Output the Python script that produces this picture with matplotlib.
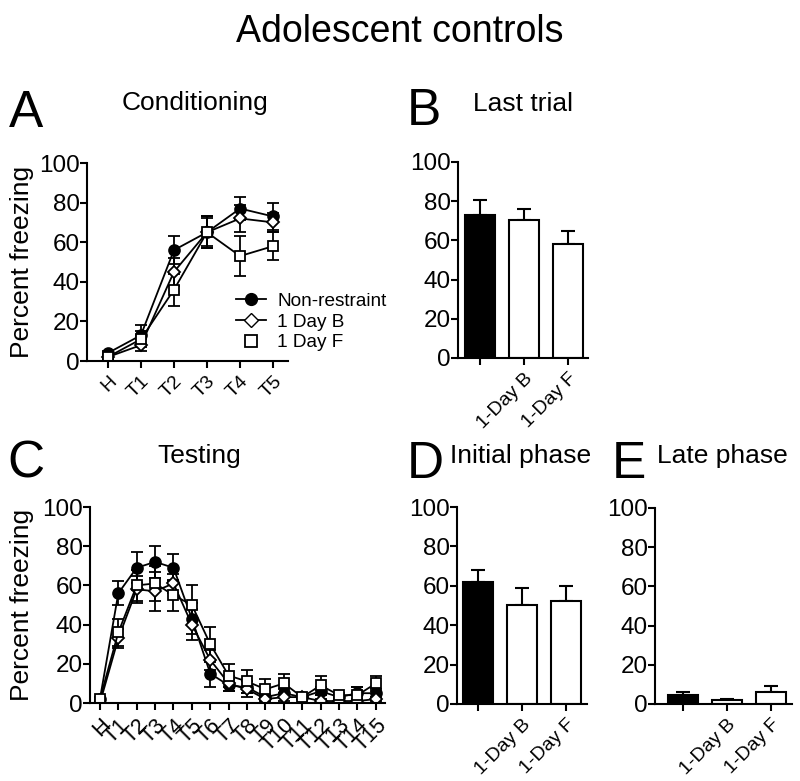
import numpy as np
import matplotlib
matplotlib.use('Agg')
import matplotlib.pyplot as plt
from matplotlib.lines import Line2D

plt.rcParams['font.family'] = ['Liberation Sans', 'DejaVu Sans']
plt.rcParams['axes.linewidth'] = 1.5

groups = ['Non-restraint', '1 Day B', '1 Day F']
bar_labels = ['', '1-Day B', '1-Day F']

# conditioning (A)
cond_trials = ['H', 'T1', 'T2', 'T3', 'T4', 'T5']
cond_nr = [4, 13, 56, 65, 77, 73]
cond_nr_err = [1, 5, 7, 8, 6, 7]
cond_b = [2, 8, 45, 65, 72, 70]
cond_b_err = [1, 3, 7, 7, 7, 5]
cond_f = [2, 11, 36, 65, 53, 58]
cond_f_err = [1, 4, 8, 8, 10, 7]

# last trial (B)
last_vals = [73, 70.5, 58]
last_err = [7.5, 5.5, 7]

# testing (C)
test_trials = ['H'] + ['T%d' % i for i in range(1, 16)]
test_nr = [2, 56, 69, 72, 69, 43, 15, 9, 8, 3, 5, 3, 6, 3, 5, 5]
test_nr_err = [1, 6, 8, 8, 7, 8, 7, 3, 3, 1, 2, 1, 2, 1, 3, 2]
test_b = [0, 33, 58, 57, 61, 40, 22, 10, 7, 2, 3, 3, 1, 1, 1, 2]
test_b_err = [0.5, 5, 7, 10, 5, 8, 5, 4, 4, 1, 2, 1, 1, 1, 1, 1]
test_f = [2, 36, 60, 61, 55, 50, 30, 14, 11, 7, 10, 3, 9, 4, 4, 10]
test_f_err = [1, 7, 8, 9, 8, 10, 9, 6, 6, 5, 5, 1, 5, 1, 4, 4]

# initial / late phase (D, E)
init_vals = [62, 50.5, 52.5]
init_err = [6, 8.5, 7.5]
late_vals = [4.5, 2, 6]
late_err = [1.5, 0.7, 3]

W, H = 800, 781
fig = plt.figure(figsize=(8, 7.81), dpi=100)


def ax_at(l, r, b, t):
    return fig.add_axes([l / W, 1 - b / H, (r - l) / W, (b - t) / H])


def style(ax):
    ax.spines['top'].set_visible(False)
    ax.spines['right'].set_visible(False)
    ax.set_ylim(0, 100)
    ax.set_yticks([0, 20, 40, 60, 80, 100])
    ax.tick_params(axis='both', width=1.5, length=5, labelsize=17.5)
    ax.tick_params(axis='y', pad=0)


def lines(ax, trials, series, ms, xl, fs):
    x = np.arange(len(trials))
    marks = [('o', 'black'), ('D', 'white'), ('s', 'white')]
    for (y, e), (m, fc) in zip(series, marks):
        ax.errorbar(x, y, yerr=e, color='black', lw=1.3, elinewidth=1.3,
                    capsize=4, capthick=1.3, marker=m, mfc=fc, mec='black',
                    ms=ms * (0.8 if m == 'D' else 1), mew=1.3)
    style(ax)
    ax.set_xlim(*xl)
    ax.set_xticks(x)
    ax.set_xticklabels(trials, rotation=45, ha='right', rotation_mode='anchor',
                       fontsize=fs)


def bars(ax, vals, err, xl):
    x = np.arange(3)
    ax.bar(x, vals, width=0.68, color=['black', 'white', 'white'],
           edgecolor='black', linewidth=1.5, zorder=2)
    ax.errorbar(x, vals, yerr=[np.zeros(3), err], fmt='none', ecolor='black',
                elinewidth=1.5, capsize=5, capthick=1.5, zorder=1)
    style(ax)
    ax.set_xlim(*xl)
    ax.set_xticks(x)
    ax.set_xticklabels(bar_labels, rotation=45, ha='right',
                       rotation_mode='anchor', fontsize=14)


axA = ax_at(87, 288, 361, 163)
lines(axA, cond_trials, [(cond_nr, cond_nr_err), (cond_b, cond_b_err),
                         (cond_f, cond_f_err)], 7.8, (-0.63, 5.45), 14)

axB = ax_at(458, 588, 358, 162)
bars(axB, last_vals, last_err, (-0.5, 2.45))

axC = ax_at(90, 385, 703, 507)
lines(axC, test_trials, [(test_nr, test_nr_err), (test_b, test_b_err),
                         (test_f, test_f_err)], 7.8, (-0.54, 15.5), 15.5)

axD = ax_at(457, 587, 704, 507)
bars(axD, init_vals, init_err, (-0.48, 2.48))

axE = ax_at(655, 792, 704, 508)
bars(axE, late_vals, late_err, (-0.64, 2.48))

# legend in panel A
handles = [
    Line2D([], [], color='black', lw=1.3, marker='o', mfc='black', ms=8.5),
    Line2D([], [], color='black', lw=1.3, marker='D', mfc='white', ms=7),
    Line2D([], [], color='none', marker='s', mfc='white', mec='black',
           ms=9, mew=1.3),
]
fig.legend(handles, groups, loc='upper left', frameon=False, fontsize=13.7,
           bbox_to_anchor=(226 / W, 1 - 283 / H), borderpad=0,
           labelspacing=0.18, handlelength=1.6, handletextpad=0.6)


def ftext(x, y, s, size, ha='left'):
    fig.text(x / W, 1 - y / H, s, fontsize=size, ha=ha, va='baseline')


ftext(400, 42, 'Adolescent controls', 27, ha='center')
ftext(9, 127, 'A', 37)
ftext(195, 110, 'Conditioning', 19, ha='center')
ftext(407, 125, 'B', 37)
ftext(473, 111, 'Last trial', 19)
ftext(7, 478, 'C', 37)
ftext(199, 463, 'Testing', 19, ha='center')
ftext(407, 478, 'D', 37)
ftext(450, 463, 'Initial phase', 19)
ftext(612, 478, 'E', 37)
ftext(657, 463, 'Late phase', 19)

for yc in [262, 605]:
    fig.text(22 / W, 1 - yc / H, 'Percent freezing', fontsize=19,
             rotation=90, ha='center', va='center')

fig.savefig('out.png', dpi=100)
